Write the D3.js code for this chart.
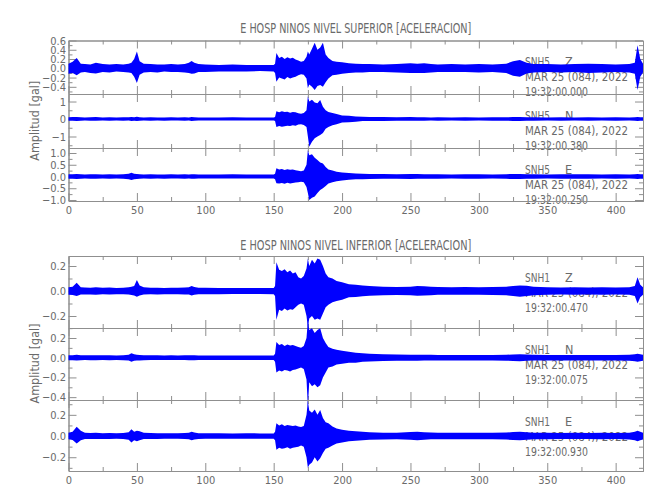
<!DOCTYPE html>
<html><head><meta charset="utf-8">
<script src="https://cdn.jsdelivr.net/npm/d3@7"></script>
<style>body{margin:0;background:#fff}svg{display:block}</style>
</head><body>
<script>
// ---------- data ----------
const timeSec = [0,3,6,9,12,16,20,25,30,35,
 40,44,46,48,50,52,55,60,65,70,
 75,80,85,88,90,92,95,100,110,120,
 130,140,150,151,152,154,156,158,160,162,
 164,166,168,170,172,174,175,176,178,180,
 182,184,186,188,190,193,196,200,205,210,
 215,220,230,240,250,255,260,265,270,280,
 290,300,310,320,325,330,335,340,350,360,
 370,380,390,400,410,414,416,418,420];

const snh5Z_max = [0.10,0.14,0.22,0.10,0.09,0.08,0.12,0.09,0.08,0.09,
 0.08,0.10,0.12,0.20,0.36,0.15,0.10,0.09,0.08,0.08,
 0.09,0.08,0.09,0.12,0.16,0.12,0.09,0.08,0.07,0.08,
 0.07,0.07,0.07,0.10,0.33,0.22,0.25,0.20,0.24,0.21,
 0.23,0.19,0.17,0.14,0.16,0.25,0.36,0.30,0.42,0.55,
 0.40,0.45,0.55,0.30,0.22,0.16,0.14,0.13,0.11,0.10,
 0.09,0.09,0.08,0.09,0.11,0.10,0.11,0.09,0.08,0.09,
 0.08,0.09,0.08,0.10,0.15,0.18,0.12,0.09,0.09,0.08,
 0.09,0.10,0.09,0.08,0.09,0.12,0.50,0.20,0.10];
const snh5Z_min = [-0.12,-0.10,-0.15,-0.09,-0.08,-0.10,-0.11,-0.08,-0.09,-0.07,
 -0.08,-0.09,-0.10,-0.18,-0.32,-0.14,-0.09,-0.08,-0.09,-0.07,
 -0.08,-0.08,-0.09,-0.10,-0.12,-0.11,-0.08,-0.08,-0.07,-0.07,
 -0.07,-0.06,-0.07,-0.10,-0.29,-0.20,-0.22,-0.24,-0.19,-0.22,
 -0.20,-0.18,-0.15,-0.13,-0.14,-0.22,-0.43,-0.35,-0.40,-0.47,
 -0.38,-0.36,-0.40,-0.30,-0.22,-0.15,-0.14,-0.12,-0.10,-0.09,
 -0.09,-0.08,-0.08,-0.09,-0.10,-0.10,-0.10,-0.09,-0.08,-0.08,
 -0.08,-0.09,-0.08,-0.10,-0.16,-0.18,-0.11,-0.09,-0.08,-0.09,
 -0.08,-0.10,-0.09,-0.08,-0.09,-0.12,-0.47,-0.18,-0.09];

const snh5N_max = [0.10,0.11,0.12,0.10,0.09,0.10,0.11,0.09,0.10,0.09,
 0.10,0.10,0.11,0.10,0.13,0.10,0.09,0.10,0.09,0.09,
 0.10,0.09,0.10,0.09,0.11,0.10,0.09,0.09,0.09,0.10,
 0.09,0.09,0.09,0.12,0.45,0.38,0.44,0.40,0.42,0.36,
 0.40,0.38,0.33,0.30,0.35,0.50,1.30,1.00,1.10,0.95,
 0.90,1.08,0.70,0.50,0.40,0.35,0.28,0.20,0.18,0.15,
 0.13,0.12,0.11,0.10,0.11,0.10,0.10,0.09,0.10,0.09,
 0.10,0.09,0.10,0.10,0.11,0.12,0.10,0.10,0.09,0.10,
 0.09,0.10,0.09,0.10,0.09,0.10,0.12,0.10,0.10];
const snh5N_min = [-0.10,-0.10,-0.11,-0.10,-0.09,-0.10,-0.10,-0.09,-0.10,-0.09,
 -0.10,-0.09,-0.11,-0.10,-0.12,-0.10,-0.09,-0.10,-0.09,-0.10,
 -0.09,-0.09,-0.10,-0.09,-0.11,-0.10,-0.09,-0.09,-0.09,-0.09,
 -0.09,-0.09,-0.09,-0.12,-0.45,-0.40,-0.44,-0.42,-0.38,-0.40,
 -0.36,-0.38,-0.32,-0.30,-0.34,-0.45,-1.00,-1.58,-1.30,-1.10,
 -1.00,-0.91,-0.80,-0.55,-0.45,-0.35,-0.30,-0.20,-0.18,-0.15,
 -0.12,-0.11,-0.11,-0.10,-0.10,-0.10,-0.10,-0.09,-0.10,-0.09,
 -0.10,-0.09,-0.10,-0.10,-0.11,-0.12,-0.10,-0.10,-0.09,-0.10,
 -0.09,-0.10,-0.09,-0.10,-0.09,-0.10,-0.12,-0.10,-0.10];

const snh5E_max = [0.10,0.10,0.11,0.10,0.09,0.10,0.10,0.09,0.10,0.09,
 0.10,0.12,0.16,0.12,0.11,0.10,0.09,0.10,0.09,0.09,
 0.10,0.09,0.10,0.09,0.10,0.10,0.09,0.09,0.09,0.10,
 0.09,0.09,0.09,0.12,0.35,0.30,0.32,0.28,0.31,0.29,
 0.30,0.27,0.24,0.22,0.26,0.50,1.13,0.90,0.95,0.80,
 0.70,0.60,0.55,0.40,0.30,0.25,0.20,0.17,0.15,0.13,
 0.12,0.11,0.11,0.10,0.11,0.11,0.10,0.10,0.10,0.09,
 0.10,0.10,0.09,0.10,0.11,0.11,0.10,0.10,0.09,0.10,
 0.10,0.10,0.09,0.10,0.09,0.10,0.11,0.10,0.10];
const snh5E_min = [-0.10,-0.10,-0.11,-0.10,-0.09,-0.10,-0.10,-0.09,-0.10,-0.09,
 -0.10,-0.12,-0.15,-0.12,-0.11,-0.10,-0.09,-0.10,-0.09,-0.10,
 -0.09,-0.09,-0.10,-0.09,-0.10,-0.10,-0.09,-0.09,-0.09,-0.09,
 -0.09,-0.09,-0.09,-0.12,-0.29,-0.30,-0.28,-0.31,-0.27,-0.30,
 -0.28,-0.26,-0.24,-0.22,-0.25,-0.45,-0.70,-1.00,-0.90,-0.85,
 -0.70,-0.57,-0.50,-0.40,-0.30,-0.25,-0.20,-0.17,-0.14,-0.12,
 -0.12,-0.11,-0.10,-0.10,-0.11,-0.10,-0.10,-0.10,-0.10,-0.09,
 -0.10,-0.10,-0.09,-0.10,-0.11,-0.11,-0.10,-0.10,-0.09,-0.10,
 -0.10,-0.10,-0.09,-0.10,-0.09,-0.10,-0.11,-0.10,-0.10];

const snh1Z_max = [0.030,0.035,0.066,0.030,0.028,0.027,0.030,0.026,0.028,0.025,
 0.027,0.030,0.035,0.040,0.088,0.045,0.030,0.027,0.026,0.025,
 0.027,0.026,0.028,0.030,0.040,0.032,0.027,0.026,0.025,0.024,
 0.025,0.024,0.025,0.040,0.230,0.170,0.160,0.175,0.150,0.165,
 0.140,0.150,0.110,0.100,0.120,0.180,0.260,0.200,0.250,0.220,
 0.260,0.250,0.200,0.140,0.110,0.100,0.080,0.070,0.055,0.050,
 0.045,0.040,0.035,0.033,0.035,0.040,0.038,0.035,0.032,0.030,
 0.032,0.030,0.032,0.035,0.040,0.045,0.042,0.035,0.030,0.028,
 0.030,0.028,0.030,0.028,0.030,0.040,0.110,0.050,0.030];
const snh1Z_min = [-0.030,-0.032,-0.040,-0.028,-0.027,-0.028,-0.030,-0.026,-0.027,-0.025,
 -0.026,-0.028,-0.032,-0.035,-0.045,-0.035,-0.028,-0.026,-0.027,-0.025,
 -0.026,-0.025,-0.027,-0.028,-0.035,-0.030,-0.026,-0.025,-0.025,-0.024,
 -0.024,-0.024,-0.025,-0.040,-0.230,-0.150,-0.160,-0.140,-0.155,-0.145,
 -0.150,-0.130,-0.110,-0.100,-0.110,-0.200,-0.290,-0.220,-0.200,-0.230,
 -0.220,-0.230,-0.180,-0.130,-0.110,-0.090,-0.080,-0.070,-0.050,-0.048,
 -0.042,-0.038,-0.034,-0.032,-0.034,-0.038,-0.036,-0.034,-0.030,-0.030,
 -0.030,-0.030,-0.031,-0.034,-0.040,-0.045,-0.040,-0.034,-0.030,-0.028,
 -0.029,-0.028,-0.029,-0.028,-0.030,-0.040,-0.100,-0.050,-0.030];

const snh1N_max = [0.025,0.026,0.030,0.025,0.024,0.025,0.026,0.024,0.025,0.023,
 0.025,0.030,0.045,0.035,0.030,0.028,0.025,0.024,0.025,0.023,
 0.024,0.023,0.024,0.025,0.026,0.025,0.023,0.023,0.022,0.023,
 0.022,0.022,0.022,0.040,0.160,0.130,0.140,0.120,0.135,0.125,
 0.130,0.120,0.110,0.100,0.120,0.200,0.380,0.280,0.300,0.250,
 0.280,0.300,0.200,0.150,0.110,0.090,0.080,0.070,0.060,0.050,
 0.045,0.040,0.035,0.032,0.030,0.030,0.030,0.029,0.028,0.027,
 0.028,0.027,0.028,0.030,0.033,0.035,0.033,0.030,0.028,0.027,
 0.028,0.027,0.028,0.027,0.030,0.035,0.040,0.035,0.030];
const snh1N_min = [-0.025,-0.026,-0.028,-0.025,-0.024,-0.025,-0.025,-0.024,-0.025,-0.023,
 -0.025,-0.028,-0.040,-0.032,-0.028,-0.027,-0.025,-0.024,-0.024,-0.023,
 -0.024,-0.023,-0.024,-0.025,-0.026,-0.025,-0.023,-0.023,-0.022,-0.023,
 -0.022,-0.022,-0.022,-0.040,-0.150,-0.130,-0.140,-0.125,-0.130,-0.140,
 -0.125,-0.120,-0.110,-0.100,-0.115,-0.220,-0.500,-0.250,-0.290,-0.270,
 -0.300,-0.280,-0.200,-0.150,-0.100,-0.090,-0.070,-0.060,-0.050,-0.050,
 -0.042,-0.038,-0.034,-0.031,-0.030,-0.030,-0.029,-0.028,-0.027,-0.027,
 -0.027,-0.027,-0.028,-0.030,-0.033,-0.035,-0.032,-0.029,-0.028,-0.027,
 -0.027,-0.027,-0.028,-0.027,-0.030,-0.035,-0.040,-0.035,-0.030];

const snh1E_max = [0.030,0.040,0.088,0.050,0.030,0.028,0.030,0.027,0.028,0.026,
 0.028,0.035,0.063,0.040,0.050,0.045,0.030,0.028,0.027,0.026,
 0.027,0.026,0.028,0.032,0.040,0.033,0.027,0.026,0.026,0.025,
 0.026,0.025,0.025,0.040,0.120,0.100,0.110,0.095,0.105,0.100,
 0.095,0.100,0.090,0.085,0.095,0.200,0.330,0.240,0.220,0.250,
 0.200,0.245,0.170,0.130,0.120,0.090,0.070,0.060,0.050,0.045,
 0.040,0.036,0.032,0.032,0.038,0.040,0.036,0.033,0.031,0.030,
 0.031,0.030,0.031,0.033,0.038,0.040,0.036,0.032,0.030,0.029,
 0.030,0.029,0.030,0.029,0.032,0.040,0.050,0.040,0.032];
const snh1E_min = [-0.030,-0.038,-0.070,-0.040,-0.029,-0.028,-0.029,-0.027,-0.028,-0.026,
 -0.027,-0.034,-0.060,-0.040,-0.050,-0.040,-0.029,-0.027,-0.027,-0.026,
 -0.026,-0.026,-0.027,-0.030,-0.040,-0.032,-0.027,-0.026,-0.026,-0.025,
 -0.025,-0.025,-0.025,-0.040,-0.130,-0.110,-0.120,-0.115,-0.105,-0.120,
 -0.110,-0.105,-0.100,-0.090,-0.100,-0.200,-0.300,-0.270,-0.250,-0.200,
 -0.240,-0.210,-0.160,-0.120,-0.110,-0.090,-0.070,-0.060,-0.050,-0.045,
 -0.040,-0.035,-0.032,-0.031,-0.036,-0.040,-0.035,-0.031,-0.030,-0.030,
 -0.030,-0.030,-0.031,-0.033,-0.038,-0.040,-0.035,-0.031,-0.030,-0.029,
 -0.029,-0.029,-0.030,-0.029,-0.032,-0.040,-0.050,-0.040,-0.032];

const groupTitles = ["E HOSP NINOS NIVEL SUPERIOR [ACELERACION]", "E HOSP NINOS NIVEL INFERIOR [ACELERACION]"];
const yAxisTitle = "Amplitud [gal]";
const stations = ["SNH5","SNH5","SNH5","SNH1","SNH1","SNH1"];
const components = ["Z","N","E","Z","N","E"];
const dateLabel = "MAR 25 (084), 2022";
const startTimes = ["19:32:00.000","19:32:00.380","19:32:00.250","19:32:00.470","19:32:00.075","19:32:00.930"];
const xTickLabels = [0,50,100,150,200,250,300,350,400];
const yDomains = [[-0.555,0.6],[-1.657,1.43],[-1.043,1.213],[-0.296,0.28],[-0.429,0.3015],[-0.33,0.34]];
const yTickLabels = [[0.6,0.4,0.2,0.0,-0.2,-0.4],[1,0,-1],[1.0,0.5,0.0,-0.5,-1.0],[0.2,0.0,-0.2],[0.2,0.0,-0.2,-0.4],[0.2,0.0,-0.2]];
const yMinorSteps = [0.1,0.5,0.25,0.1,0.1,0.1];
const yDecimals = [1,0,1,1,1,1];

// ---------- layout ----------
const W = 650, H = 500;
const X0 = 68.5, X1 = 643;
const panelTops = [40.5, 94, 148, 256, 328, 400];
const panelBottoms = [94, 148, 201, 328, 400, 471];
const FONT = "'Liberation Sans Narrow','DejaVu Sans Condensed','Liberation Sans',sans-serif";
const AXC = "#8f8f8f", TXC = "#6a6a6a", TRACE = "#0000ff";

const traces = [
  [snh5Z_min, snh5Z_max],[snh5N_min, snh5N_max],[snh5E_min, snh5E_max],
  [snh1Z_min, snh1Z_max],[snh1N_min, snh1N_max],[snh1E_min, snh1E_max]
];

const svg = d3.select("body").append("svg").attr("width", W).attr("height", H)
  .style("font-family", FONT);

const x = d3.scaleLinear().domain([0, 420]).range([X0, X1]);
const fmtMinus = (v, dec) => (v < 0 ? "\u2212" : "") + Math.abs(v).toFixed(dec);

// titles
const titleY = [33, 250];
groupTitles.forEach((t, i) => {
  svg.append("text").attr("x", (X0 + X1) / 2).attr("y", titleY[i])
    .attr("text-anchor", "middle").attr("font-size", 14).attr("fill", TXC)
    .attr("textLength", 231).attr("lengthAdjust", "spacingAndGlyphs").text(t);
});
// y axis titles
[[40.5, 201], [256, 471]].forEach(([a, b]) => {
  svg.append("text").attr("transform", `translate(39,${(a + b) / 2}) rotate(-90)`)
    .attr("text-anchor", "middle").attr("font-size", 13).attr("fill", TXC)
    .attr("textLength", 80).attr("lengthAdjust", "spacingAndGlyphs").text(yAxisTitle);
});

const minorX = d3.range(25, 420, 50);

traces.forEach((tr, p) => {
  const top = panelTops[p], bot = panelBottoms[p];
  const y = d3.scaleLinear().domain(yDomains[p]).range([bot, top]);
  const g = svg.append("g");
  const isBottom = (p === 2 || p === 5);

  // station annotation (under trace)
  const ann = g.append("g").attr("fill", TXC).attr("font-size", 12.5);
  ann.append("text").attr("x", 525).attr("y", top + 25.5).attr("textLength", 25)
    .attr("lengthAdjust", "spacingAndGlyphs").text(stations[p]);
  ann.append("text").attr("x", 565).attr("y", top + 25.5).text(components[p]);
  ann.append("text").attr("x", 525).attr("y", top + 40.5).attr("textLength", 103)
    .attr("lengthAdjust", "spacingAndGlyphs").text(dateLabel);
  ann.append("text").attr("x", 525).attr("y", top + 55.5).attr("textLength", 63)
    .attr("lengthAdjust", "spacingAndGlyphs").text(startTimes[p]);

  const styleAxis = sel => {
    sel.selectAll("path.domain").attr("stroke", AXC);
    sel.selectAll(".tick line").attr("stroke", AXC);
    sel.selectAll(".tick text").attr("fill", TXC).attr("font-family", FONT);
  };
  g.append("g").attr("transform", `translate(${X0},0)`)
    .call(d3.axisLeft(y).tickValues(yTickLabels[p]).tickSize(-8).tickSizeOuter(0).tickPadding(2.5)
      .tickFormat(v => fmtMinus(v, yDecimals[p])))
    .call(s => s.attr("font-size", 11)).call(styleAxis);
  const [d0, d1] = yDomains[p], st = yMinorSteps[p];
  const minorY = d3.range(Math.ceil(d0 / st) * st, d1 + 1e-9, st)
    .filter(v => !yTickLabels[p].some(l => Math.abs(l - v) < 1e-6));
  g.append("g").attr("transform", `translate(${X0},0)`)
    .call(d3.axisLeft(y).tickValues(minorY).tickSize(-4).tickSizeOuter(0).tickFormat(""))
    .call(styleAxis);
  g.append("g").attr("transform", `translate(${X1},0)`)
    .call(d3.axisRight(y).tickValues(yTickLabels[p]).tickSize(-8).tickSizeOuter(0).tickFormat(""))
    .call(styleAxis);
  g.append("g").attr("transform", `translate(${X1},0)`)
    .call(d3.axisRight(y).tickValues(minorY).tickSize(-4).tickSizeOuter(0).tickFormat(""))
    .call(styleAxis);
  g.append("g").attr("transform", `translate(0,${top})`)
    .call(d3.axisTop(x).tickValues(xTickLabels).tickSize(-8).tickSizeOuter(0).tickFormat(""))
    .call(styleAxis);
  g.append("g").attr("transform", `translate(0,${top})`)
    .call(d3.axisTop(x).tickValues(minorX).tickSize(-4).tickSizeOuter(0).tickFormat(""))
    .call(styleAxis);
  g.append("g").attr("transform", `translate(0,${bot})`)
    .call(d3.axisBottom(x).tickValues(xTickLabels).tickSize(-8).tickSizeOuter(0).tickPadding(5)
      .tickFormat(isBottom ? d3.format("d") : ""))
    .call(s => s.attr("font-size", 11)).call(styleAxis);
  g.append("g").attr("transform", `translate(0,${bot})`)
    .call(d3.axisBottom(x).tickValues(minorX).tickSize(-4).tickSizeOuter(0).tickFormat(""))
    .call(styleAxis);

  // trace envelope
  const rows = timeSec.map((t, i) => ({ t, lo: tr[0][i], hi: tr[1][i] }));
  const area = d3.area().x(d => x(d.t)).y0(d => y(d.lo)).y1(d => y(d.hi));
  g.append("path").datum(rows).attr("d", area)
    .attr("fill", TRACE).attr("stroke", "none");
});
</script>
</body></html>
